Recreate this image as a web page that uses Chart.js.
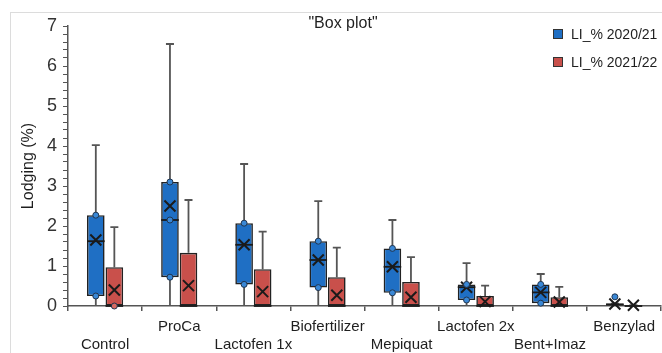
<!DOCTYPE html>
<html>
<head>
<meta charset="utf-8">
<script src="https://cdn.jsdelivr.net/npm/chart.js@4.4.1/dist/chart.umd.min.js"></script>
<style>
body { margin: 0; background: #fff; }
#frame { position: absolute; left: 10px; top: 12px; width: 700px; height: 400px; border: 1px solid #dcdcdc; }
#wrap { position: absolute; left: 0; top: 0; width: 662px; height: 353px; }
</style>
</head>
<body>
<div id="frame"></div>
<div id="wrap"><canvas id="boxChart" width="662" height="353"></canvas></div>
<script>
const categories = ['Control', 'ProCa', 'Lactofen 1x', 'Biofertilizer', 'Mepiquat', 'Lactofen 2x', 'Bent+Imaz', 'Benzylad'];
const seriesNames = ['LI_% 2020/21', 'LI_% 2021/22'];

// 2020/21
const minA    = [0, 0, 0, 0, 0, 0, 0, 0];
const q1A     = [0.25, 0.72, 0.54, 0.46, 0.33, 0.15, 0.07, 0];
const medianA = [1.62, 2.15, 1.53, 1.15, 0.98, 0.47, 0.34, 0.04];
const q3A     = [2.27, 3.10, 2.07, 1.62, 1.44, 0.54, 0.54, 0.06];
const maxA    = [4.02, 6.55, 3.55, 2.62, 2.15, 1.07, 0.80, 0.06];
const meanA   = [1.65, 2.50, 1.53, 1.15, 0.98, 0.47, 0.34, 0.05];
const pointsA = [[0.25, 2.27], [0.72, 2.15, 3.10], [0.54, 2.07], [0.46, 1.62], [0.33, 1.44], [0.15, 0.54], [0.07, 0.54], [0.23]];

// 2021/22
const minB    = [0, 0, 0, 0, 0, 0, 0, 0];
const q1B     = [0, 0, 0, 0, 0, 0, 0, 0];
const medianB = [0, 0, 0, 0, 0, 0, 0, 0];
const q3B     = [0.97, 1.33, 0.92, 0.72, 0.60, 0.25, 0.22, 0.02];
const maxB    = [1.97, 2.65, 1.86, 1.46, 1.22, 0.51, 0.48, 0.02];
const meanB   = [0.40, 0.51, 0.36, 0.27, 0.22, 0.11, 0.10, 0.02];
const pointsB = [[0], [], [], [], [], [], [], []];

const yTicks = [0, 1, 2, 3, 4, 5, 6, 7];

const colors = ['#1f6fc4', '#c9504b'];
const pointFill = ['#3a88d6', '#d86a63'];

const stats = [
	{ min: minA, q1: q1A, med: medianA, q3: q3A, max: maxA, mean: meanA, pts: pointsA },
	{ min: minB, q1: q1B, med: medianB, q3: q3B, max: maxB, mean: meanB, pts: pointsB },
];

// staggered labels: even ones on the second line
const labels = categories.map((c, i) => i % 2 === 0 ? ['', c] : [c, '']);

const boxExtras = {
	id: 'boxExtras',
	beforeDatasetsDraw(chart) {
		const ctx = chart.ctx;
		const y = chart.scales.y;
		ctx.save();
		ctx.strokeStyle = '#555';
		ctx.lineWidth = 1.8;
		stats.forEach((s, d) => {
			chart.getDatasetMeta(d).data.forEach((bar, j) => {
				const x = bar.x;
				ctx.beginPath();
				ctx.moveTo(x, y.getPixelForValue(s.max[j]));
				ctx.lineTo(x, y.getPixelForValue(s.q3[j]));
				ctx.moveTo(x, y.getPixelForValue(s.q1[j]));
				ctx.lineTo(x, y.getPixelForValue(s.min[j]));
				ctx.moveTo(x - 4, y.getPixelForValue(s.max[j]));
				ctx.lineTo(x + 4, y.getPixelForValue(s.max[j]));
				ctx.stroke();
			});
		});
		ctx.restore();
	},
	afterDatasetsDraw(chart) {
		const ctx = chart.ctx;
		const y = chart.scales.y;
		ctx.save();
		stats.forEach((s, d) => {
			chart.getDatasetMeta(d).data.forEach((bar, j) => {
				const x = bar.x;
				const half = bar.width / 2;
				// median
				ctx.strokeStyle = '#1a1a1a';
				ctx.lineWidth = 1.8;
				const my = y.getPixelForValue(s.med[j]);
				ctx.beginPath();
				ctx.moveTo(x - half, my);
				ctx.lineTo(x + half, my);
				ctx.stroke();
				// mean
				const ey = y.getPixelForValue(s.mean[j]);
				ctx.lineWidth = 2;
				ctx.beginPath();
				ctx.moveTo(x - 5.5, ey - 5.5);
				ctx.lineTo(x + 5.5, ey + 5.5);
				ctx.moveTo(x + 5.5, ey - 5.5);
				ctx.lineTo(x - 5.5, ey + 5.5);
				ctx.stroke();
				// points
				s.pts[j].forEach(v => {
					ctx.beginPath();
					ctx.arc(x, y.getPixelForValue(v), 3, 0, Math.PI * 2);
					ctx.fillStyle = pointFill[d];
					ctx.fill();
					ctx.lineWidth = 1;
					ctx.strokeStyle = '#20354f';
					ctx.stroke();
				});
			});
		});
		ctx.restore();
	},
	afterDraw(chart) {
		const ctx = chart.ctx;
		ctx.save();
		ctx.fillStyle = '#1f1f1f';
		ctx.font = '16px "Liberation Sans", Arial, sans-serif';
		ctx.textAlign = 'center';
		ctx.textBaseline = 'middle';
		ctx.fillText('"Box plot"', 343, 24);
		ctx.font = '14px "Liberation Sans", Arial, sans-serif';
		ctx.textAlign = 'left';
		seriesNames.forEach((name, i) => {
			const ly = 34 + i * 28;
			ctx.fillStyle = colors[i];
			ctx.fillRect(553, ly - 5, 10, 10);
			ctx.strokeStyle = '#333';
			ctx.lineWidth = 1;
			ctx.strokeRect(553.5, ly - 4.5, 9, 9);
			ctx.fillStyle = '#1f1f1f';
			ctx.fillText(name, 571, ly + 1);
		});
		ctx.restore();
	}
};

const ctx = document.getElementById('boxChart').getContext('2d');
const boxChart = new Chart(ctx, {
	type: 'bar',
	data: {
		labels: labels,
		datasets: seriesNames.map((name, d) => ({
			label: name,
			data: stats[d].q1.map((v, j) => [v, stats[d].q3[j]]),
			backgroundColor: colors[d],
			borderColor: '#222',
			borderWidth: 1.6,
			borderSkipped: false,
			categoryPercentage: 0.5,
			barPercentage: 0.95,
		})),
	},
	options: {
		responsive: false,
		animation: false,
		layout: { padding: { top: 26, right: 0, left: 0, bottom: 0 } },
		plugins: {
			legend: { display: false },
			title: { display: false },
			tooltip: { enabled: false },
		},
		scales: {
			x: {
				afterFit: s => { s.height = 47; },
				grid: { offset: true, drawOnChartArea: false, tickLength: 5, color: '#555', lineWidth: 1.5 },
				border: { color: '#555', width: 1.5 },
				ticks: {
					autoSkip: false, maxRotation: 0, minRotation: 0, padding: 7,
					color: '#1f1f1f',
					font: { family: '"Liberation Sans", Arial, sans-serif', size: 15, lineHeight: 1.2 },
				},
			},
			y: {
				min: 0, max: 7,
				afterFit: s => { s.width = 68; },
				grid: { drawOnChartArea: false, tickLength: 5, color: '#555', lineWidth: 1 },
				border: { color: '#555', width: 1.5 },
				ticks: {
					stepSize: 0.2,
					autoSkip: false,
					padding: 6,
					color: '#333',
					font: { family: '"Liberation Sans", Arial, sans-serif', size: 18 },
					callback: v => {
						const r = Math.round(v);
						return Math.abs(v - r) < 1e-6 && yTicks.includes(r) ? String(r) : '';
					},
				},
				title: {
					display: true,
					text: 'Lodging (%)',
					color: '#1f1f1f',
					padding: { top: 19, bottom: 0 },
					font: { family: '"Liberation Sans", Arial, sans-serif', size: 16 },
				},
			},
		},
	},
	plugins: [boxExtras],
});
</script>
</body>
</html>
